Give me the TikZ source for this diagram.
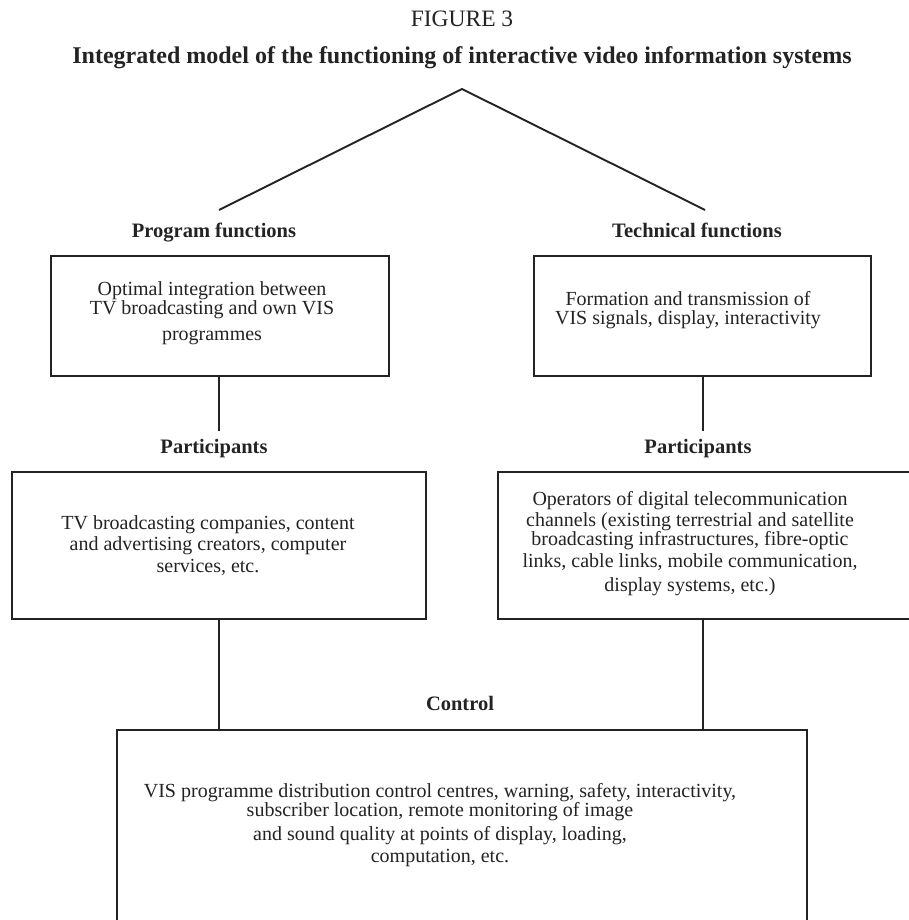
\documentclass[tikz,border=0pt]{standalone}
\usepackage{fontspec}
\setmainfont{Liberation Serif}
\definecolor{ink}{RGB}{35,35,35}
\begin{document}
\begin{tikzpicture}[x=1pt,y=-1pt,
  ink/.style={draw=ink,line width=1.9pt},
  boxnode/.style={ink,rectangle,inner sep=0pt},
  head/.style={text=ink,inner sep=0pt,font=\fontsize{23.5}{26}\selectfont},
  lbl/.style={text=ink,inner sep=0pt,text height=14pt,text depth=4.5pt,font=\fontsize{20.5}{22}\selectfont\bfseries},
  body/.style={text=ink,inner sep=0pt,align=center,font=\fontsize{20}{21.5}\selectfont}]
\useasboundingbox (0,0) rectangle (909,920);
\clip (0,0) rectangle (909,920);
\fill[white] (0,0) rectangle (909,920);
% titles
\node[head] (fig) at (462,19) {FIGURE 3};
\node[head,font=\fontsize{24}{26}\selectfont\bfseries] (title) at (462,58) {Integrated model of the functioning of interactive video information systems};
% tree top
\coordinate (apex) at (462,89);
\coordinate (tl) at (219,210);
\coordinate (tr) at (705,210);
\draw[ink] (tl) -- (apex) -- (tr);
% labels
\node[lbl] (pf) at (214,233) {Program functions};
\node[lbl] (tf) at (697,233) {Technical functions};
\node[lbl] (pl) at (214,449) {Participants};
\node[lbl] (pr) at (698,449) {Participants};
\node[lbl] (ctl) at (460,706) {Control};
% boxes
\node[boxnode,minimum width=338pt,minimum height=120pt] (b1l) at (220,316) {};
\node[boxnode,minimum width=337pt,minimum height=120pt] (b1r) at (702.5,316) {};
\node[boxnode,minimum width=414pt,minimum height=147pt] (b2l) at (219,545.5) {};
\node[boxnode,minimum width=417pt,minimum height=147pt] (b2r) at (706.5,545.5) {};
\node[boxnode,minimum width=690pt,minimum height=220pt] (b3) at (462,840) {};
% texts
\node[body] (t1l) at (212,313.5) {Optimal integration between\\[-2.5pt]TV broadcasting and own VIS\\[4.5pt]programmes};
\node[body] (t1r) at (688,310.5) {Formation and transmission of\\[-2.5pt]VIS signals, display, interactivity};
\node[body] (t2l) at (208,545.5) {TV broadcasting companies, content\\and advertising creators, computer\\services, etc.};
\node[body] (t2r) at (690,543.5) {Operators of digital telecommunication\\channels (existing terrestrial and satellite\\[-2.5pt]broadcasting infrastructures, fibre-optic\\links, cable links, mobile communication,\\[2.5pt]display systems, etc.)};
\node[body] (t3) at (440,825) {VIS programme distribution control centres, warning, safety, interactivity,\\[-2.5pt]subscriber location, remote monitoring of image\\[2.5pt]and sound quality at points of display, loading,\\computation, etc.};
% connectors
\coordinate (jl) at (218.6,431);
\coordinate (jr) at (703,431);
\draw[ink] (b1l.south -| jl) -- (jl);
\draw[ink] (b1r.south -| jr) -- (jr);
\draw[ink] (b2l.south -| jl) -- (b3.north -| jl);
\draw[ink] (b2r.south -| jr) -- (b3.north -| jr);
\end{tikzpicture}
\end{document}
